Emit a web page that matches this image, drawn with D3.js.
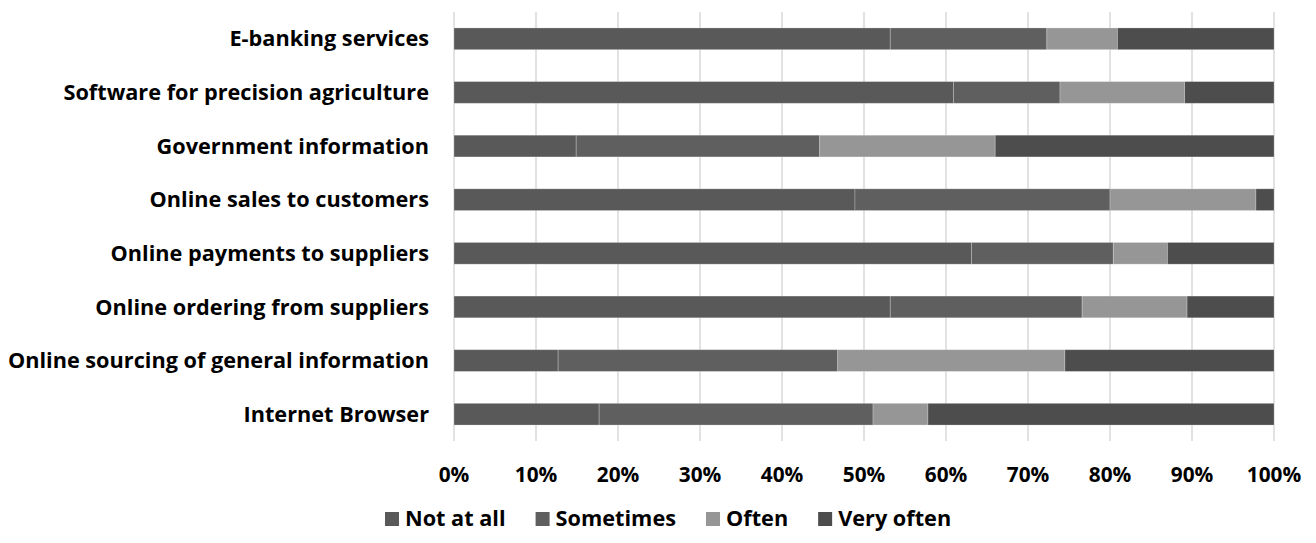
<!DOCTYPE html>
<html>
<head>
<meta charset="utf-8">
<script src="https://cdn.jsdelivr.net/npm/d3@7"></script>
<style>
  body { margin: 0; background: #fff; }
  svg { display: block; font-family: "Open Sans", Lato, sans-serif; font-weight: bold; }
</style>
</head>
<body>
<svg id="chart"></svg>
<script>
// categories, top to bottom
const categories = [
  "E-banking services",
  "Software for precision agriculture",
  "Government information",
  "Online sales to customers",
  "Online payments to suppliers",
  "Online ordering from suppliers",
  "Online sourcing of general information",
  "Internet Browser"
]
const seriesNames = ["Not at all", "Sometimes", "Often", "Very often"]
// percent shares per category
const notAtAll  = [53.2, 60.9, 14.9, 48.9, 63.1, 53.2, 12.7, 17.7]
const sometimes = [19.1, 13.0, 29.7, 31.1, 17.3, 23.4, 34.1, 33.4]
const often     = [ 8.6, 15.2, 21.4, 17.8,  6.6, 12.8, 27.7,  6.7]
const veryOften = [19.1, 10.9, 34.0,  2.2, 13.0, 10.6, 25.5, 42.2]
const xTicks = [0, 0.1, 0.2, 0.3, 0.4, 0.5, 0.6, 0.7, 0.8, 0.9, 1]

const colors = ["#595959", "#5f5f5f", "#969696", "#4d4d4d"]

const W = 1316, H = 543
const margin = { top: 12, right: 42, bottom: 102, left: 454 }
const labelSize = 21.7, tickSize = 20.8

const svg = d3.select("#chart").attr("width", W).attr("height", H)

const rows = categories.map((c, i) => ({
  cat: c,
  "Not at all": notAtAll[i],
  "Sometimes": sometimes[i],
  "Often": often[i],
  "Very often": veryOften[i]
}))

const stack = d3.stack().keys(seriesNames).offset(d3.stackOffsetExpand)
const layers = stack(rows)

const x = d3.scaleLinear().domain([0, 1]).range([margin.left, W - margin.right])
const y = d3.scaleBand().domain(categories).range([margin.top, H - margin.bottom])
  .paddingInner(0.595).paddingOuter(0.2975)

// gridlines
svg.append("g")
  .selectAll("line")
  .data(xTicks)
  .enter().append("line")
  .attr("x1", d => x(d)).attr("x2", d => x(d))
  .attr("y1", margin.top).attr("y2", H - margin.bottom)
  .attr("stroke", "#d9d9d9")
  .attr("stroke-width", 1.5)

// bars
svg.append("g")
  .selectAll("g")
  .data(layers)
  .enter().append("g")
  .attr("fill", (d, i) => colors[i])
  .selectAll("rect")
  .data(d => d)
  .enter().append("rect")
  .attr("x", d => x(d[0]))
  .attr("y", d => y(d.data.cat))
  .attr("width", d => x(d[1]) - x(d[0]))
  .attr("height", y.bandwidth())
  .attr("stroke", "rgba(255,255,255,0.3)")
  .attr("stroke-width", 0.8)

// category labels
svg.append("g")
  .selectAll("text")
  .data(categories)
  .enter().append("text")
  .attr("x", margin.left - 25)
  .attr("y", d => y(d) + y.bandwidth() / 2)
  .attr("dy", "0.35em")
  .attr("text-anchor", "end")
  .attr("font-size", labelSize)
  .attr("fill", "#000")
  .text(d => d)

// x axis labels
const fmt = d3.format(".0%")
svg.append("g")
  .selectAll("text")
  .data(xTicks)
  .enter().append("text")
  .attr("x", d => x(d))
  .attr("y", 475)
  .attr("dy", "0.35em")
  .attr("text-anchor", "middle")
  .attr("font-size", tickSize)
  .attr("fill", "#000")
  .text(d => fmt(d))

// legend
const legend = svg.append("g")
let lx = 385
seriesNames.forEach((name, i) => {
  legend.append("rect")
    .attr("x", lx).attr("y", 512)
    .attr("width", 14).attr("height", 14)
    .attr("fill", colors[i])
  const t = legend.append("text")
    .attr("x", lx + 20).attr("y", 518)
    .attr("dy", "0.35em")
    .attr("font-size", labelSize)
    .attr("fill", "#000")
    .text(name)
  lx += 20 + t.node().getComputedTextLength() + 30
})
</script>
</body>
</html>
